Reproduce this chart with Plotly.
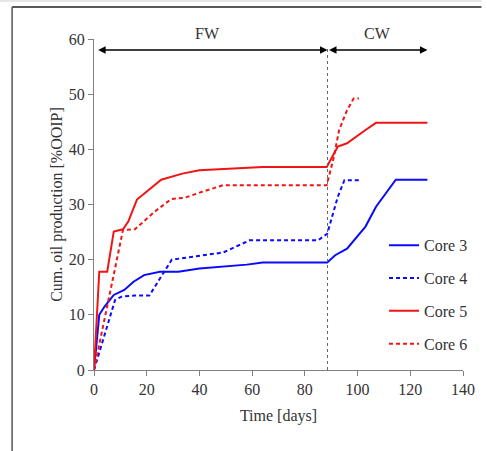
import plotly.graph_objects as go

# ---- data ----
t3 = [0, 2, 4, 7.5, 11.5, 15, 19, 25, 32, 40, 58, 64, 88.5, 91.5, 96, 103, 107, 114.5, 126.5]
v3 = [0, 10, 11.5, 13.6, 14.5, 16, 17.2, 17.8, 17.8, 18.4, 19.1, 19.5, 19.5, 20.8, 22, 26, 29.6, 34.5, 34.5]

t4 = [0, 8, 10.5, 15.5, 21, 29.5, 34, 49, 59, 85, 88.5, 92.5, 95, 101]
v4 = [0, 12.7, 13.3, 13.5, 13.5, 20, 20.3, 21.3, 23.5, 23.5, 24.7, 31.4, 34.4, 34.4]

t5 = [0, 2, 5, 7.5, 11, 13, 16.3, 25.5, 33.5, 40, 64, 88.3, 92.5, 96, 103, 107, 126.5]
v5 = [0, 17.8, 17.8, 25.1, 25.5, 26.9, 30.9, 34.5, 35.6, 36.2, 36.8, 36.8, 40.5, 41.1, 43.5, 44.8, 44.8]

t6 = [0, 11, 15.5, 23, 29.3, 34.3, 41, 49, 88.3, 91, 93, 96, 98.5, 100.5]
v6 = [0, 25.4, 25.5, 28.7, 31, 31.2, 32.3, 33.5, 33.5, 38.6, 43.5, 47.1, 49.2, 49.2]

names = ["Core 3", "Core 4", "Core 5", "Core 6"]
switch_day = 88.6
phase_start = 1
phase_end = 126.5
arrow_level = 58
phase_labels = ["FW", "CW"]
phase_label_x = [43, 107.5]

BLUE = "#0a0aff"
RED = "#f01414"
FONT = "Liberation Serif"
FS = 16

fig = go.Figure()
series = [(t3, v3, BLUE, "solid"), (t4, v4, BLUE, "4px,3px"),
          (t5, v5, RED, "solid"), (t6, v6, RED, "4px,3px")]
for i, (t, v, c, d) in enumerate(series):
    fig.add_trace(go.Scatter(x=t, y=v, mode="lines", name=names[i], legendgroup=names[i],
                             line=dict(color=c, width=2, dash=d)))

# vertical dotted separator
fig.add_shape(type="line", x0=switch_day, x1=switch_day, y0=0, y1=58.5, xref="x", yref="y",
              line=dict(color="#666666", width=1, dash="dot"))

# phase arrows
for x0, x1 in [(phase_start, switch_day), (switch_day, phase_end)]:
    fig.add_annotation(x=x1, y=arrow_level, ax=x0, ay=arrow_level, xref="x", yref="y",
                       axref="x", ayref="y", text="", showarrow=True, arrowhead=2,
                       arrowside="end+start", arrowsize=1, arrowwidth=1.5, arrowcolor="black")
for lab, lx in zip(phase_labels, phase_label_x):
    fig.add_annotation(x=lx, y=1.018, text=lab, showarrow=False, xref="x", yref="paper",
                       yanchor="middle", font=dict(family=FONT, size=FS, color="#333333"))

# outer frame lines
fig.add_shape(type="line", xref="paper", yref="paper", x0=-0.222, x1=1.05, y0=1.097, y1=1.097,
              line=dict(color="#222222", width=1.5))
fig.add_shape(type="line", xref="paper", yref="paper", x0=-0.222, x1=-0.222, y0=1.097, y1=-0.3,
              line=dict(color="#555555", width=1.5))
fig.add_shape(type="line", xref="paper", yref="paper", x0=-0.3, x1=1.05, y0=1.115, y1=1.115,
              line=dict(color="#e6e6e6", width=2))

fig.update_layout(
    width=487, height=451,
    margin=dict(l=94, r=15, t=39, b=81),
    paper_bgcolor="white", plot_bgcolor="white",
    font=dict(family=FONT, size=FS, color="#333333"),
    showlegend=True,
    legend=dict(x=0.786, y=0.428, xanchor="left", yanchor="top", bgcolor="rgba(0,0,0,0)",
                tracegroupgap=9, font=dict(family=FONT, size=FS, color="#333333")),
    xaxis=dict(range=[0, 140], tickvals=[0, 20, 40, 60, 80, 100, 120, 140],
               showgrid=False, zeroline=False, showline=True, linecolor="#808080", linewidth=1,
               ticks="outside", ticklen=5, tickcolor="#808080",
               title=dict(text="Time [days]", standoff=12, font=dict(family=FONT, size=FS))),
    yaxis=dict(range=[0, 60], tickvals=[0, 10, 20, 30, 40, 50, 60],
               showgrid=False, zeroline=False, showline=True, linecolor="#808080", linewidth=1,
               ticks="outside", ticklen=5, tickcolor="#808080",
               title=dict(text="Cum. oil production [%OOIP]", standoff=2, font=dict(family=FONT, size=FS))),
)

fig.write_html("out.html")
